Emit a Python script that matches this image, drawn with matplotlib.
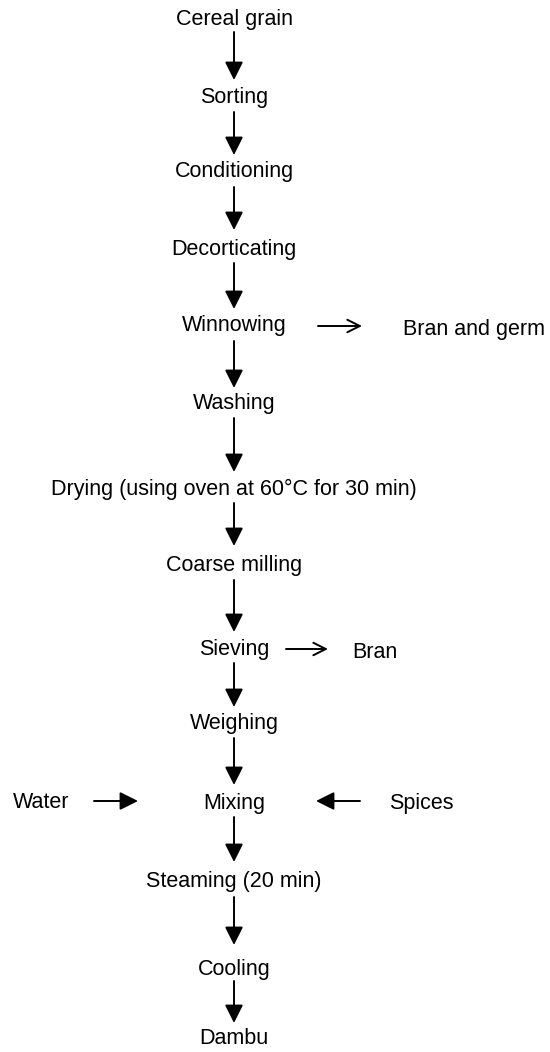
import matplotlib
matplotlib.use("Agg")
import matplotlib.pyplot as plt
from matplotlib.patches import FancyArrowPatch

plt.rcParams['font.family'] = ['Liberation Sans', 'DejaVu Sans']

# Process steps (main flow)
steps = ["Cereal grain", "Sorting", "Conditioning", "Decorticating", "Winnowing",
         "Washing", "Drying (using oven at 60°C for 30 min)", "Coarse milling",
         "Sieving", "Weighing", "Mixing", "Steaming (20 min)", "Cooling", "Dambu"]
# Side outputs / inputs
side_outputs = {"Winnowing": "Bran and germ", "Sieving": "Bran"}
side_inputs_left = {"Mixing": "Water"}
side_inputs_right = {"Mixing": "Spices"}

# Layout (pixel coordinates)
step_y = [18, 96, 170, 247, 324, 402, 487, 563, 647, 722, 801, 879, 967, 1037]
arrow_spans = [(32, 80), (112, 155), (187, 230), (263, 309), (341, 388), (418, 472),
               (503, 546), (580, 632), (663, 707), (738, 785), (817, 862),
               (897, 945), (981, 1023)]
cx = 234
W, H = 550, 1052
dy = 2  # text baseline tweak

fig = plt.figure(figsize=(W / 100, H / 100), dpi=100)
ax = fig.add_axes([0, 0, 1, 1])
ax.set_xlim(0, W)
ax.set_ylim(H, 0)
ax.axis('off')

fs = 15.5

def arrow(p0, p1, style):
    a = FancyArrowPatch(p0, p1, arrowstyle=style, mutation_scale=10,
                        shrinkA=0, shrinkB=0, color='black', lw=1.4)
    ax.add_patch(a)

filled = '-|>,head_length=1.1,head_width=0.55'
opened = '->,head_length=0.9,head_width=0.45'

for s, y in zip(steps, step_y):
    ax.text(cx, y + dy, s, ha='center', va='center', fontsize=fs)

for (y0, y1) in arrow_spans:
    arrow((cx, y0), (cx, y1), filled)

# side outputs
out_cfg = {"Winnowing": (318, 362, 328, 403), "Sieving": (286, 328, 651, 352)}
for step, label in side_outputs.items():
    x0, x1, y, tx = out_cfg[step]
    arrow((x0, y - 2), (x1, y - 2), opened)
    ax.text(tx, y + dy, label, ha='left', va='center', fontsize=fs)

# side inputs
my = step_y[steps.index("Mixing")]
for step, label in side_inputs_left.items():
    ax.text(41, my + dy, label, ha='center', va='center', fontsize=fs)
    arrow((94, my), (138, my), filled)
for step, label in side_inputs_right.items():
    ax.text(421, my + dy, label, ha='center', va='center', fontsize=fs)
    arrow((360, my), (316, my), filled)

fig.savefig("out.png", dpi=100)
